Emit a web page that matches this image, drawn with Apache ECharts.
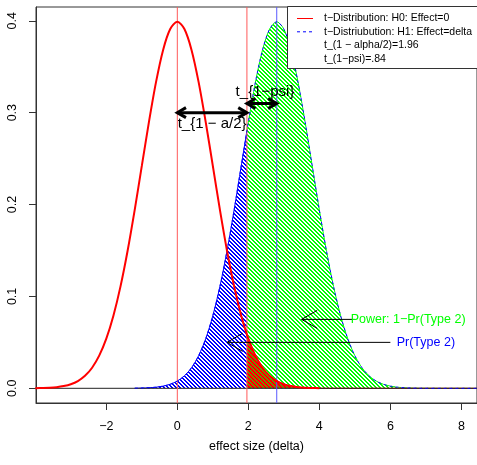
<!DOCTYPE html>
<html>
<head>
<meta charset="utf-8">
<script src="https://cdn.jsdelivr.net/npm/echarts@6/dist/echarts.min.js"></script>
<style>
  html, body { margin: 0; padding: 0; background: #fff; }
  #chart { width: 477px; height: 465px; }
</style>
</head>
<body>
<div id="chart"></div>
<script>
// Density under H0 (centred on 0)
const h0X = [-4.0, -3.8, -3.6, -3.4, -3.2, -3.0, -2.8, -2.6, -2.4, -2.2, -2.0, -1.8, -1.6, -1.4, -1.2, -1.0,
             -0.8, -0.6, -0.4, -0.2, 0.0, 0.2, 0.4, 0.6, 0.8, 1.0, 1.2, 1.4, 1.6, 1.8, 1.96, 2.0, 2.2, 2.4,
             2.6, 2.8, 3.0, 3.2, 3.4, 3.6, 3.8, 4.0];
const h0Y = [0.0001, 0.0003, 0.0006, 0.0012, 0.0024, 0.0044, 0.0079, 0.0136, 0.0224, 0.0355, 0.0540, 0.0790,
             0.1109, 0.1497, 0.1942, 0.2420, 0.2897, 0.3332, 0.3683, 0.3910, 0.3989, 0.3910, 0.3683, 0.3332,
             0.2897, 0.2420, 0.1942, 0.1497, 0.1109, 0.0790, 0.0584, 0.0540, 0.0355, 0.0224, 0.0136, 0.0079,
             0.0044, 0.0024, 0.0012, 0.0006, 0.0003, 0.0001];

// Density under H1 (centred on delta = 2.8)
const h1X = [-1.2, -1.0, -0.8, -0.6, -0.4, -0.2, 0.0, 0.2, 0.4, 0.6, 0.8, 1.0, 1.2, 1.4, 1.6, 1.8, 1.96,
             2.0, 2.2, 2.4, 2.6, 2.8, 3.0, 3.2, 3.4, 3.6, 3.8, 4.0, 4.2, 4.4, 4.6, 4.8, 5.0, 5.2, 5.4, 5.6,
             5.8, 6.0, 6.2, 6.4, 6.6, 6.8, 7.6, 8.5];
const h1Y = [0.0001, 0.0003, 0.0006, 0.0012, 0.0024, 0.0044, 0.0079, 0.0136, 0.0224, 0.0355, 0.0540, 0.0790,
             0.1109, 0.1497, 0.1942, 0.2420, 0.2803, 0.2897, 0.3332, 0.3683, 0.3910, 0.3989, 0.3910, 0.3683,
             0.3332, 0.2897, 0.2420, 0.1942, 0.1497, 0.1109, 0.0790, 0.0540, 0.0355, 0.0224, 0.0136, 0.0079,
             0.0044, 0.0024, 0.0012, 0.0006, 0.0003, 0.0001, 0.0000, 0.0000];

// Reference values
const meanH0 = 0;
const critValue = 1.96;
const meanH1 = 2.8;
const axisRightEnd = 8.5;
const refLines = [meanH0, critValue, meanH1];

const xTicks = [-2, 0, 2, 4, 6, 8];
const yTicks = [0, 0.1, 0.2, 0.3, 0.4];

// Double-headed span arrows and their labels
const spanArrows = [[0, 0.30, 1.96, 0.30], [1.96, 0.31, 2.8, 0.31]];
const spanLabels = ['t_{1 − a/2}', 't_{1−psi}'];
const spanLabelXY = [[0.98, 0.288], [2.47, 0.323]];

// Pointer arrows and their labels
const pointerArrows = [[5.0, 0.075, 3.5, 0.075], [6.0, 0.05, 1.4, 0.05]];
const pointerLabels = ['Power: 1−Pr(Type 2)', 'Pr(Type 2)'];
const pointerLabelXY = [[6.5, 0.075], [7.0, 0.05]];

const legendLabels = [
  't−Distribution: H0: Effect=0',
  't−Distriubution: H1: Effect=delta',
  't_(1 − alpha/2)=1.96',
  't_(1−psi)=.84'
];

const FONT = '"Liberation Sans", Arial, Helvetica, sans-serif';
const RED = '#ff0000', BLUE = '#0000ff', GREEN = '#00ff00';
const X_MIN = -3.98, X_MAX = 8.44, Y_MIN = -0.016, Y_MAX = 0.415;

// Diagonal hatch pattern (lines running top-left to bottom-right)
function hatch(color, phase, thick) {
  const p = 4;
  const c = document.createElement('canvas');
  c.width = p; c.height = p;
  const g = c.getContext('2d');
  g.fillStyle = color;
  for (let i = 0; i < p; i++) {
    for (let k = 0; k < thick; k++) g.fillRect((i + phase + k) % p, i, 1, 1);
  }
  return { image: c, repeat: 'repeat' };
}

const pairs = (xs, ys) => xs.map((x, i) => [x, ys[i]]);
const h0Pts = pairs(h0X, h0Y);
const h1Pts = pairs(h1X, h1Y);
const beta = h1Pts.filter(p => p[0] <= critValue);
const power = h1Pts.filter(p => p[0] >= critValue);
const alphaTail = h0Pts.filter(p => p[0] >= critValue).concat([[axisRightEnd, 0]]);

function arrowHead(tip, from, len, ang) {
  const dx = tip[0] - from[0], dy = tip[1] - from[1];
  const d = Math.hypot(dx, dy) || 1;
  const ux = dx / d, uy = dy / d;
  const rot = (a) => [
    tip[0] - len * (ux * Math.cos(a) - uy * Math.sin(a)),
    tip[1] - len * (ux * Math.sin(a) + uy * Math.cos(a))
  ];
  return [rot(ang), tip, rot(-ang)];
}

const chart = echarts.init(document.getElementById('chart'), null, { renderer: 'canvas' });

const minus = v => String(v).replace('-', '−');

chart.setOption({
  animation: false,
  backgroundColor: '#fff',
  grid: {
    left: 36, right: -1, top: 7, bottom: 62,
    show: true, borderColor: '#333', borderWidth: 1, backgroundColor: 'transparent'
  },
  xAxis: {
    type: 'value', min: X_MIN, max: X_MAX,
    name: 'effect size (delta)', nameLocation: 'middle', nameGap: 37,
    nameTextStyle: { fontFamily: FONT, fontSize: 12.5, color: '#000' },
    axisLine: { show: true, onZero: false, lineStyle: { color: '#333', width: 1 } },
    axisTick: { show: true, customValues: xTicks, length: 7, lineStyle: { color: '#333' } },
    axisLabel: { customValues: xTicks, formatter: minus, fontFamily: FONT, fontSize: 12.5, color: '#000', margin: 17 },
    splitLine: { show: false }
  },
  yAxis: {
    type: 'value', min: Y_MIN, max: Y_MAX,
    axisLine: { show: true, onZero: false, lineStyle: { color: '#333', width: 1 } },
    axisTick: { show: true, customValues: yTicks, length: 7, lineStyle: { color: '#333' } },
    axisLabel: { customValues: yTicks, formatter: v => v.toFixed(1), rotate: 90, fontFamily: FONT, fontSize: 12.5, color: '#000', margin: 17 },
    splitLine: { show: false }
  },
  graphic: [
    { type: 'rect', z: 100, shape: { x: 287.5, y: 6.5, width: 200, height: 62 },
      style: { fill: '#fff', stroke: '#333', lineWidth: 1 } },
    { type: 'line', z: 101, shape: { x1: 297, y1: 18.5, x2: 313, y2: 18.5 }, style: { stroke: RED, lineWidth: 1 } },
    { type: 'line', z: 101, shape: { x1: 297, y1: 31.8, x2: 313, y2: 31.8 }, style: { stroke: BLUE, lineWidth: 1, lineDash: [3, 3] } }
  ].concat(legendLabels.map((t, i) => ({
    type: 'text', z: 101, x: 324, y: 18.5 + i * 13.4,
    style: { text: t, fill: '#000', font: '10.5px ' + FONT, verticalAlign: 'middle' }
  }))),
  series: [
    {
      name: 'power', type: 'line', data: power, showSymbol: false, smooth: 0.3, z: 2,
      lineStyle: { color: GREEN, width: 1, type: 'dashed' },
      areaStyle: { color: hatch(GREEN, 0, 2), opacity: 1 }
    },
    {
      name: 'beta', type: 'line', data: beta, showSymbol: false, smooth: 0.3, z: 2,
      lineStyle: { color: BLUE, width: 1 },
      areaStyle: { color: hatch(BLUE, 0, 2), opacity: 1 }
    },
    {
      name: 'alpha', type: 'line', data: alphaTail, showSymbol: false, smooth: 0.3, z: 3,
      lineStyle: { color: RED, width: 1 },
      areaStyle: { color: hatch(RED, 1, 3), opacity: 1 }
    },
    {
      name: 'baseline', type: 'line', data: [[X_MIN, 0], [X_MAX, 0]], showSymbol: false, z: 3,
      lineStyle: { color: '#222', width: 1 }
    },
    {
      name: 'refLines', type: 'custom', z: 4, data: refLines.map(v => [v]), encode: { x: 0 },
      renderItem: (params, api) => {
        const x = api.value(0);
        const top = api.coord([x, Y_MAX]);
        const bot = api.coord([x, Y_MIN]);
        const col = x === meanH1 ? '#5a5aff' : '#ff5a5a';
        return { type: 'line', shape: { x1: top[0], y1: top[1], x2: bot[0], y2: bot[1] },
                 style: { stroke: col, lineWidth: 1 } };
      }
    },
    {
      name: 'H1', type: 'line', data: h1Pts, showSymbol: false, smooth: 0.3, z: 5,
      lineStyle: { color: BLUE, width: 1, type: [3, 3] }
    },
    {
      name: 'H0', type: 'line', data: h0Pts, showSymbol: false, smooth: 0.3, z: 6,
      lineStyle: { color: RED, width: 2 }
    },
    {
      name: 'spans', type: 'custom', z: 10, data: spanArrows, encode: { x: [0, 2], y: [1, 3] },
      renderItem: (params, api) => {
        const a = api.coord([api.value(0), api.value(1)]);
        const b = api.coord([api.value(2), api.value(3)]);
        const st = { stroke: '#000', lineWidth: 3, fill: 'none', lineCap: 'butt', lineJoin: 'miter' };
        return {
          type: 'group', children: [
            { type: 'line', shape: { x1: a[0], y1: a[1], x2: b[0], y2: b[1] }, style: st },
            { type: 'polyline', shape: { points: arrowHead(a, b, 10, Math.PI / 6) }, style: st },
            { type: 'polyline', shape: { points: arrowHead(b, a, 10, Math.PI / 6) }, style: st }
          ]
        };
      }
    },
    {
      name: 'pointers', type: 'custom', z: 10, data: pointerArrows, encode: { x: [0, 2], y: [1, 3] },
      renderItem: (params, api) => {
        const a = api.coord([api.value(0), api.value(1)]);
        const b = api.coord([api.value(2), api.value(3)]);
        const st = { stroke: '#000', lineWidth: 1, fill: 'none' };
        return {
          type: 'group', children: [
            { type: 'line', shape: { x1: a[0], y1: a[1], x2: b[0], y2: b[1] }, style: st },
            { type: 'polyline', shape: { points: arrowHead(b, a, 18, Math.PI / 6) }, style: st }
          ]
        };
      }
    },
    {
      name: 'spanText', type: 'custom', z: 11, data: spanLabelXY,
      renderItem: (params, api) => {
        const p = api.coord([api.value(0), api.value(1)]);
        return { type: 'text', x: p[0], y: p[1],
          style: { text: spanLabels[params.dataIndex], fill: '#000', font: '15px ' + FONT, align: 'center', verticalAlign: 'middle' } };
      }
    },
    {
      name: 'pointerText', type: 'custom', z: 11, data: pointerLabelXY,
      renderItem: (params, api) => {
        const p = api.coord([api.value(0), api.value(1)]);
        return { type: 'text', x: p[0], y: p[1],
          style: { text: pointerLabels[params.dataIndex], fill: params.dataIndex === 0 ? GREEN : BLUE,
                   font: '12.5px ' + FONT, align: 'center', verticalAlign: 'middle' } };
      }
    }
  ]
});
</script>
</body>
</html>
